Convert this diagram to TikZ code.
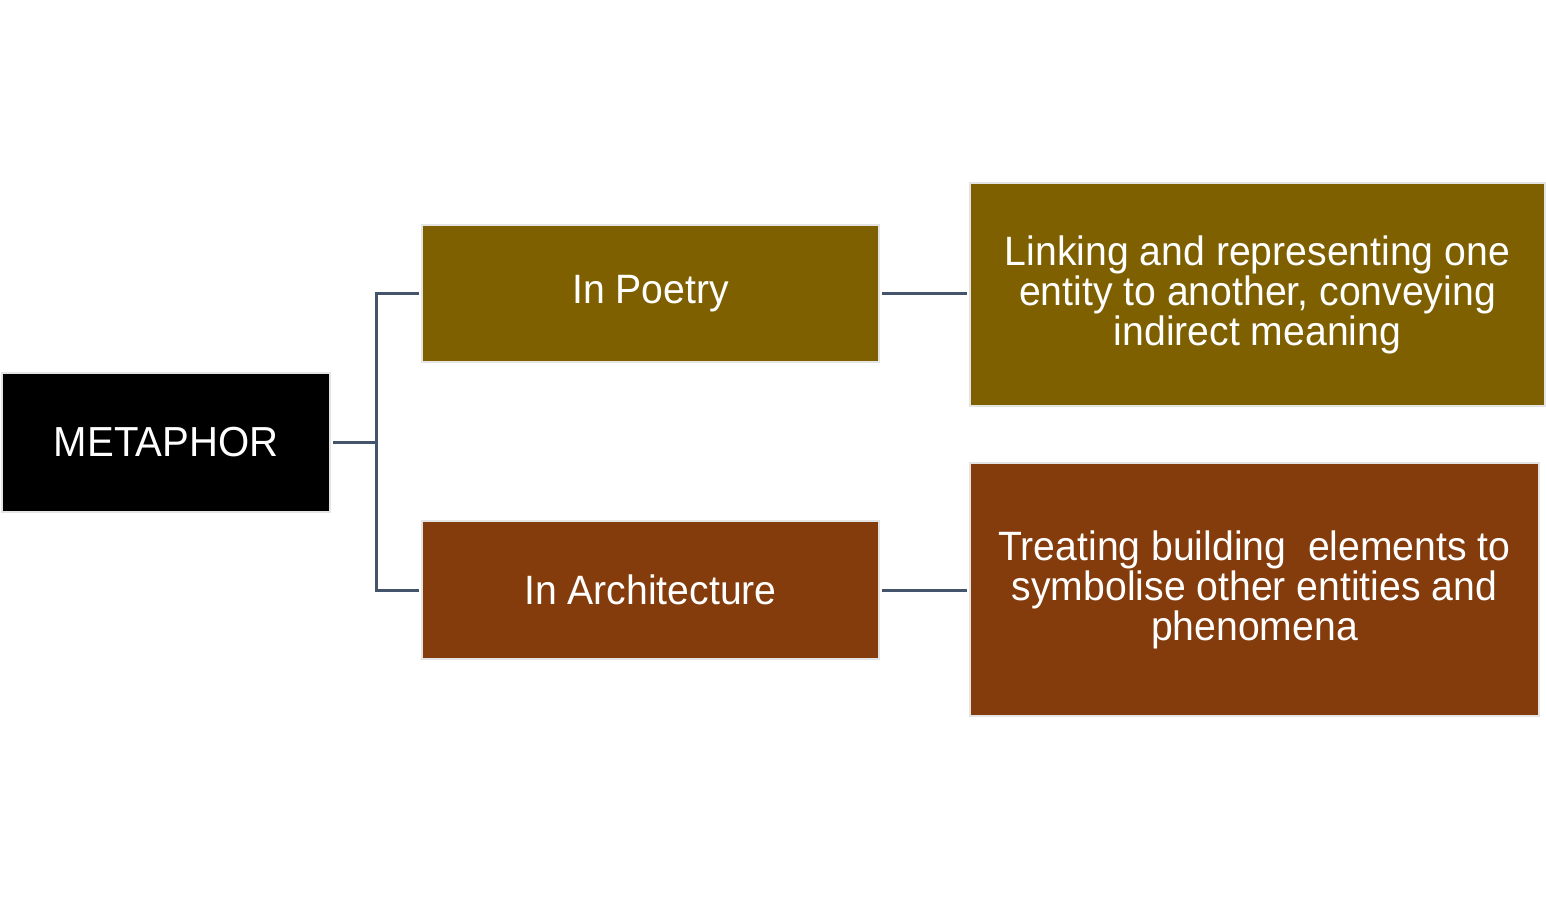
\documentclass[tikz,border=0pt]{standalone}
\usepackage{fontspec}
\setmainfont{Liberation Sans}[FakeStretch=0.955]
\definecolor{poetry}{HTML}{7F6000}
\definecolor{arch}{HTML}{843C0C}
\definecolor{conn}{HTML}{44546A}
\definecolor{edge}{HTML}{E4E4E4}
\begin{document}
\begin{tikzpicture}[x=0.5pt,y=-0.5pt,
  box/.style={draw=edge,line width=1pt,inner sep=0pt,text=white,align=center,
    font=\fontsize{20.5}{20}\selectfont},
  link/.style={draw=conn,line width=1.5pt}]
\useasboundingbox[fill=white] (0,0) rectangle (1546,900);
\node[box,fill=black,minimum width=164pt,minimum height=69.5pt,font=\fontsize{21}{20}\selectfont] (meta) at (166,442.5) {METAPHOR};
\node[box,fill=poetry,minimum width=228.5pt,minimum height=68.5pt] (poetry) at (650.5,293.5) {In Poetry};
\node[box,fill=arch,minimum width=228.5pt,minimum height=69pt] (archi) at (650.5,590) {In Architecture};
\node[box,fill=poetry,minimum width=287.5pt,minimum height=111.5pt] (linking) at (1257.5,294.5) {Linking and representing one\\entity to another, conveying\\indirect meaning};
\node[box,fill=arch,minimum width=284.5pt,minimum height=126.5pt] (treat) at (1254.5,589.5) {Treating building\ \ elements to\\symbolise other entities and\\phenomena};
\coordinate (jt) at (376,442);
\draw[link] ([xshift=1pt]meta.east |- jt) -- (jt);
\draw[link] ([xshift=-1pt]poetry.west) -| (jt);
\draw[link] ([xshift=-1pt]archi.west) -| (jt);
\draw[link] ([xshift=1pt]poetry.east) -- ([xshift=-1pt]linking.west |- poetry.east);
\draw[link] ([xshift=1pt]archi.east) -- ([xshift=-1pt]treat.west |- archi.east);
\end{tikzpicture}
\end{document}
